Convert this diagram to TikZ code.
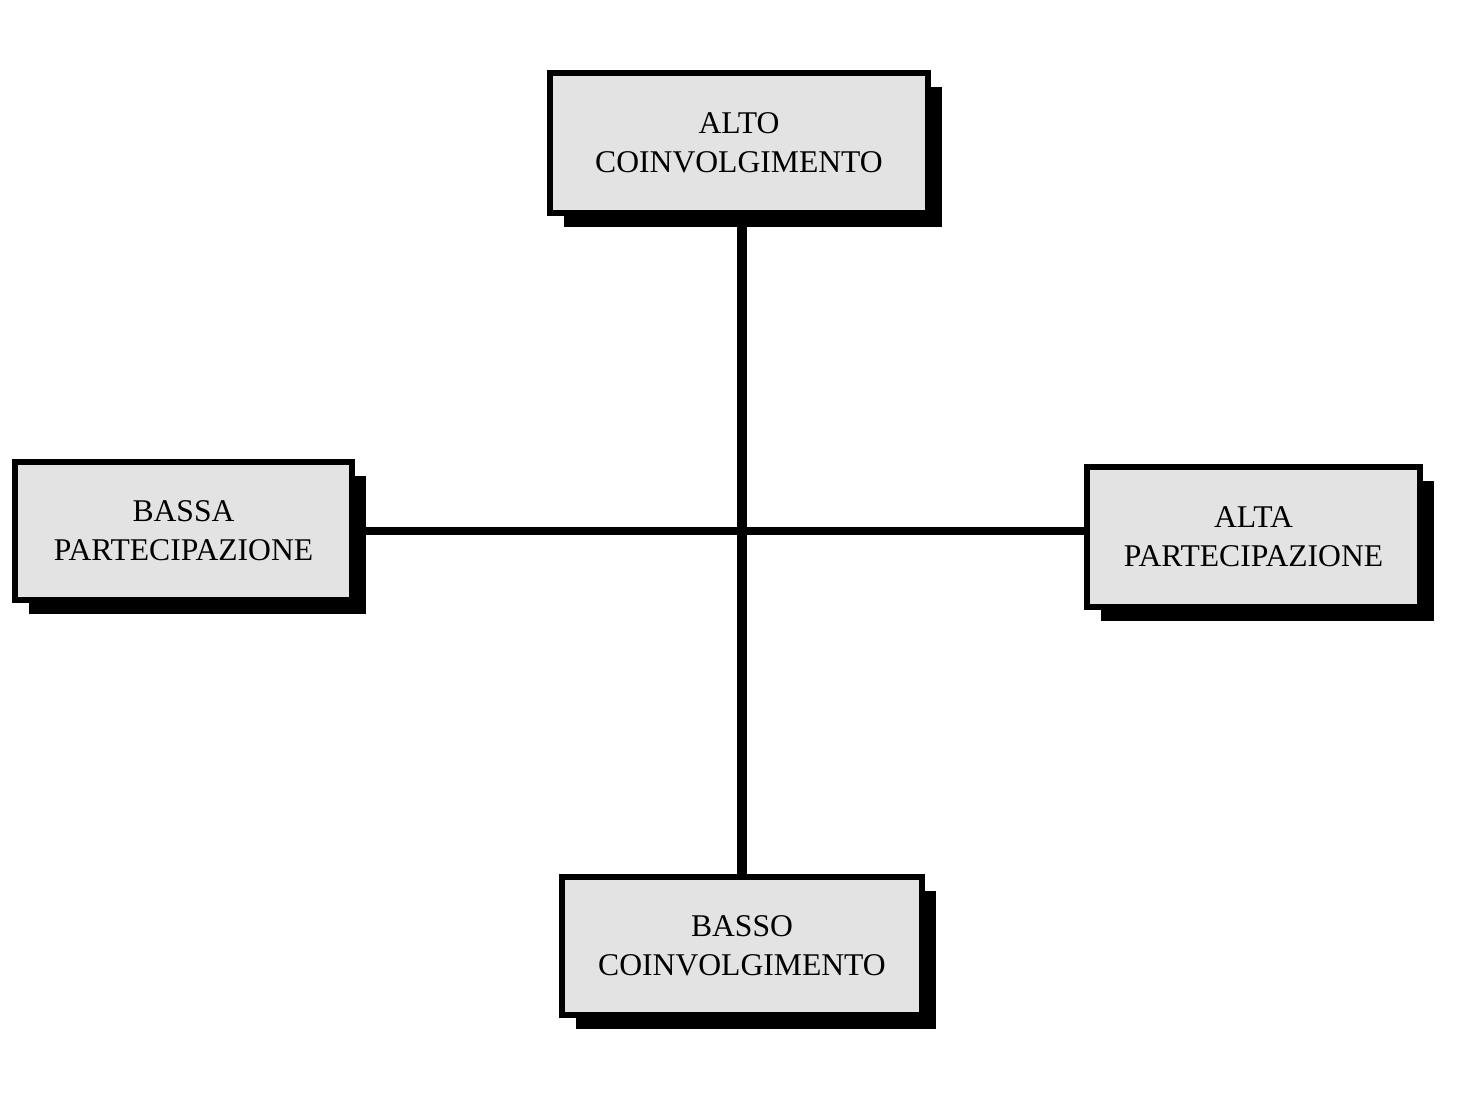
\documentclass[tikz,border=0pt]{standalone}
\usepackage{fontspec}
\setmainfont{Liberation Serif}
\usetikzlibrary{shadows}
\begin{document}
\begin{tikzpicture}[x=0.02cm,y=-0.02cm,
  box/.style={draw=black,line width=3pt,fill=gray!22,align=center,inner sep=0pt,
    font=\fontsize{18}{22}\selectfont,
    drop shadow={shadow xshift=0.28cm,shadow yshift=-0.28cm,fill=black,opacity=1}},
  axis/.style={line width=5.5pt}]
\useasboundingbox (0,0) rectangle (1457,1116);
\draw[axis] (742,215) -- (742,877);
\draw[axis,line width=4pt] (352,531) -- (1087,531);
\node[box,minimum width=7.56cm,minimum height=2.8cm] (top) at (739,143) {ALTO\\COINVOLGIMENTO};
\node[box,minimum width=6.74cm,minimum height=2.76cm] (left) at (183.5,531) {BASSA\\PARTECIPAZIONE};
\node[box,minimum width=6.66cm,minimum height=2.8cm] (right) at (1253.5,537) {ALTA\\PARTECIPAZIONE};
\node[box,minimum width=7.2cm,minimum height=2.76cm] (bot) at (742,946) {BASSO\\COINVOLGIMENTO};
\end{tikzpicture}
\end{document}
